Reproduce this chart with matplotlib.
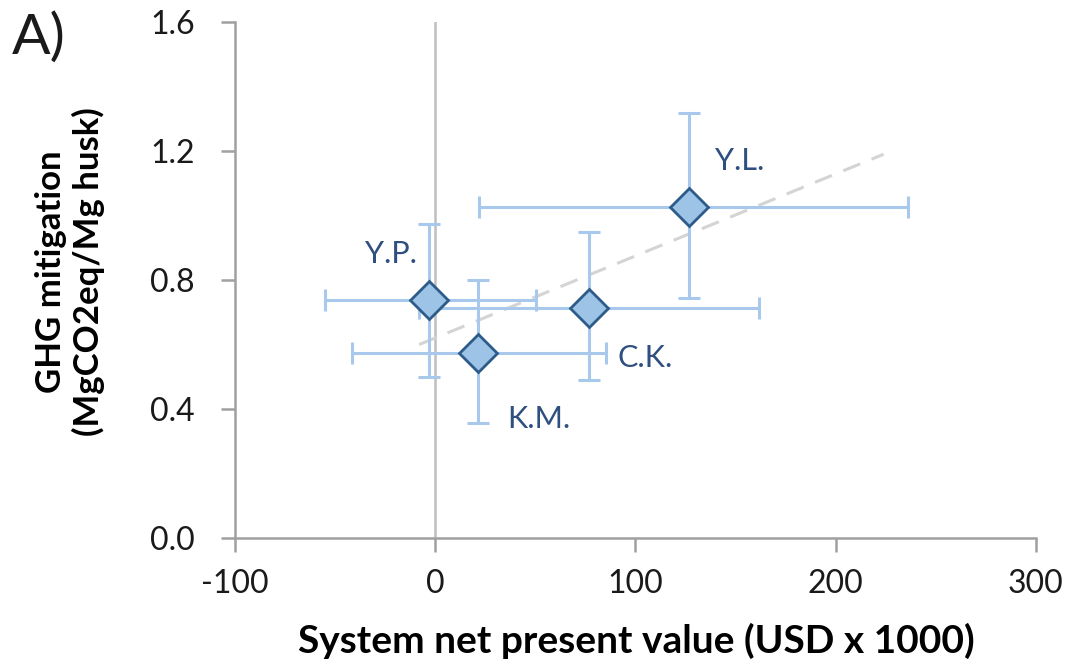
import numpy as np
import matplotlib.pyplot as plt

plt.rcParams['font.family'] = ['Lato', 'DejaVu Sans']
plt.rcParams['axes.unicode_minus'] = False

# data (x in USD x 1000, y in MgCO2eq/Mg husk)
sites = ['Y.P.', 'K.M.', 'C.K.', 'Y.L.']
npv = [-3.3, 21.2, 77.0, 127.0]
npv_lo = [-55.0, -41.7, -8.0, 21.7]
npv_hi = [50.3, 85.3, 162.0, 236.3]
ghg = [0.738, 0.573, 0.714, 1.027]
ghg_lo = [0.500, 0.356, 0.490, 0.743]
ghg_hi = [0.974, 0.800, 0.949, 1.317]
trend_x = [-8.0, 224.0]
trend_y = [0.60, 1.19]
label_xy = [(-9, 0.88), (36, 0.369), (91, 0.558), (140, 1.169)]
label_ha = ['right', 'left', 'left', 'left']
xticks = [-100, 0, 100, 200, 300]
yticks = [0.0, 0.4, 0.8, 1.2, 1.6]

npv = np.array(npv); ghg = np.array(ghg)
xerr = [npv - np.array(npv_lo), np.array(npv_hi) - npv]
yerr = [ghg - np.array(ghg_lo), np.array(ghg_hi) - ghg]

fig = plt.figure(figsize=(10.7, 6.68), dpi=100)
ax = fig.add_axes([0.2196, 0.1946, 0.7484, 0.7724])

ax.axvline(0, color='#BFBFBF', lw=1.8, zorder=1)
ax.plot(trend_x, trend_y, '--', color='#D4D4D4', lw=2.2, dashes=(6, 4), zorder=2)
ax.errorbar(npv, ghg, xerr=xerr, yerr=yerr, fmt='none', ecolor='#A9C9EC',
            elinewidth=2.2, capsize=8, capthick=2.2, zorder=3)
ax.plot(npv, ghg, 'D', ms=19, mfc='#9DC3E6', mec='#2E5C8A', mew=2, zorder=4)

for s, (lx, ly), ha in zip(sites, label_xy, label_ha):
    ax.text(lx, ly, s, ha=ha, va='center', fontsize=22, color='#2E4F7F')

ax.set_xlim(-100, 300)
ax.set_ylim(0, 1.6)
ax.set_xticks(xticks)
ax.set_yticks(yticks)
ax.set_yticklabels(['%.1f' % v for v in yticks])
ax.tick_params(labelsize=23, color='#A0A0A0', length=10, width=1.8,
               labelcolor='#1a1a1a')
ax.tick_params(axis='y', pad=19)
ax.tick_params(axis='x', pad=12)
for sp in ['top', 'right']:
    ax.spines[sp].set_visible(False)
for sp in ['left', 'bottom']:
    ax.spines[sp].set_color('#A0A0A0')
    ax.spines[sp].set_linewidth(1.8)

fig.text(636 / 1070, 1 - 641 / 668, 'System net present value (USD x 1000)',
         fontsize=28, fontweight='bold', ha='center', va='center')
fig.text(70 / 1070, 1 - 272 / 668, 'GHG mitigation\n(MgCO2eq/Mg husk)',
         fontsize=25, fontweight='bold', ha='center', va='center',
         rotation=90, linespacing=1.2)
fig.text(12 / 1070, 1 - 12 / 668, 'A)', fontsize=41, color='#1a1a1a',
         va='top', ha='left')

fig.savefig('out.png', dpi=100)
